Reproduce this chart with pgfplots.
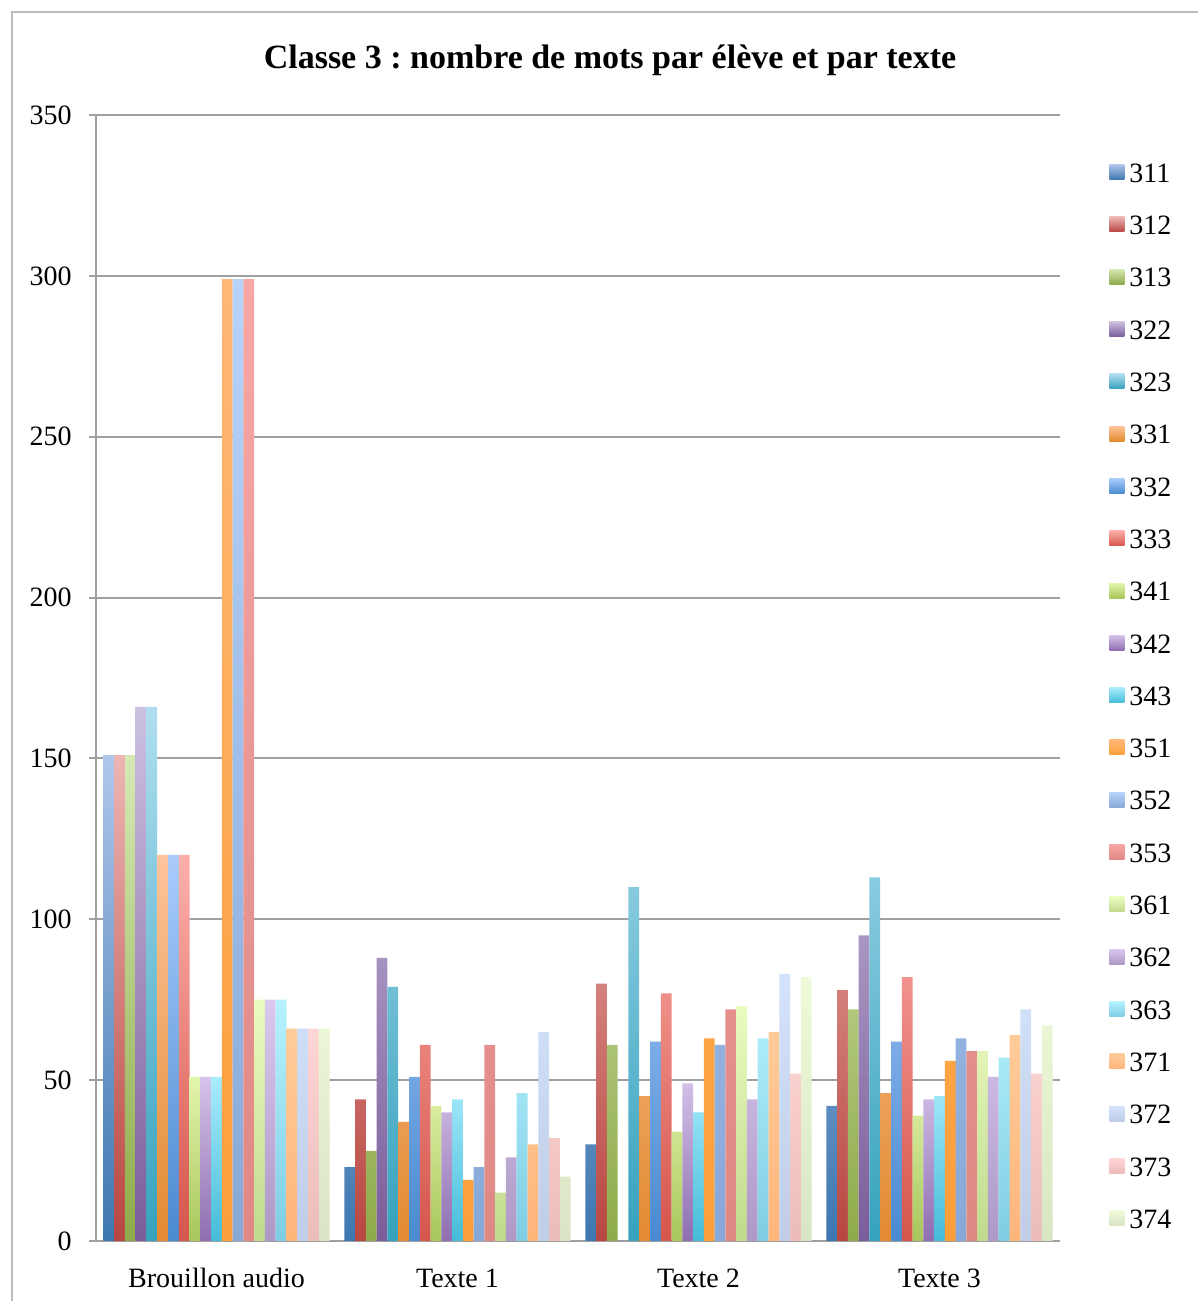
\documentclass[border=0pt]{standalone}
\usepackage{fontspec}
\setmainfont{Liberation Serif}
\usepackage{pgfplots}
\pgfplotsset{compat=1.18}
\frenchspacing
% bottom / top colours of each series
\definecolor{a1}{HTML}{3E77B0}\definecolor{b1}{HTML}{AFC6EA}
\definecolor{a2}{HTML}{B84640}\definecolor{b2}{HTML}{EDB5B3}
\definecolor{a3}{HTML}{8FAA4A}\definecolor{b3}{HTML}{D6E8B4}
\definecolor{a4}{HTML}{7A5D9A}\definecolor{b4}{HTML}{CCC1E1}
\definecolor{a5}{HTML}{36A2BD}\definecolor{b5}{HTML}{B0DEF0}
\definecolor{a6}{HTML}{E28A30}\definecolor{b6}{HTML}{FEC49C}
\definecolor{a7}{HTML}{4A8AD0}\definecolor{b7}{HTML}{AACCFC}
\definecolor{a8}{HTML}{D5564C}\definecolor{b8}{HTML}{FEAFAB}
\definecolor{a9}{HTML}{A8C65A}\definecolor{b9}{HTML}{E3F5AE}
\definecolor{a10}{HTML}{8F6EB0}\definecolor{b10}{HTML}{D4C3EA}
\definecolor{a11}{HTML}{45BCD8}\definecolor{b11}{HTML}{A9ECFC}
\definecolor{a12}{HTML}{FC9F3A}\definecolor{b12}{HTML}{FFB877}
\definecolor{a13}{HTML}{88A9D8}\definecolor{b13}{HTML}{B6D3FA}
\definecolor{a14}{HTML}{DF8985}\definecolor{b14}{HTML}{F7A7A5}
\definecolor{a15}{HTML}{C1D98E}\definecolor{b15}{HTML}{EBFCC0}
\definecolor{a16}{HTML}{AD98C7}\definecolor{b16}{HTML}{DAC8EE}
\definecolor{a17}{HTML}{7FCDE3}\definecolor{b17}{HTML}{B6F2FE}
\definecolor{a18}{HTML}{FFB57A}\definecolor{b18}{HTML}{FECC9A}
\definecolor{a19}{HTML}{BFCDE6}\definecolor{b19}{HTML}{D3E3FA}
\definecolor{a20}{HTML}{EBBCB9}\definecolor{b20}{HTML}{FED6D6}
\definecolor{a21}{HTML}{D8E4C3}\definecolor{b21}{HTML}{EFFADA}
\definecolor{axgray}{HTML}{A0A0A0}
\begin{document}
\begin{tikzpicture}
\path[use as bounding box] (0pt,0pt) rectangle (599pt,650.5pt);
\draw[axgray!70, line width=1pt] (6pt,0pt) -- (6pt,644.5pt) -- (610pt,644.5pt);
\node[anchor=base, font=\fontsize{17}{20}\selectfont\bfseries] at (305pt,616pt)
  {Classe 3 : nombre de mots par élève et par texte};
\begin{axis}[
  at={(48pt,30pt)}, anchor=south west,
  scale only axis, width=482pt, height=563pt,
  ybar=0pt, bar width=0.0447,
  xmin=-0.5, xmax=3.5, ymin=0, ymax=350,
  axis lines*=left,
  axis line style={axgray, line width=1pt},
  xtick={0,1,2,3},
  xticklabels={Brouillon audio, Texte 1, Texte 2, Texte 3},
  major x tick style={draw=none},
  extra x ticks={-0.5,0.5,1.5,2.5,3.5},
  extra x tick labels={},
  extra x tick style={major tick length=3.5pt, tick align=outside, grid=none,
     tick style={axgray, line width=1pt}},
  ytick={0,50,...,350},
  ymajorgrids,
  major grid style={axgray, line width=1pt},
  tick align=outside,
  major tick length=3.5pt,
  tick style={axgray, line width=1pt},
  /pgf/number format/assume math mode=true,
  tick label style={font=\fontsize{14}{16}\selectfont},
  yticklabel style={anchor=east, inner sep=0pt, xshift=-8.5pt},
  xticklabel style={anchor=base, inner sep=0pt, yshift=-19.5pt},
  legend style={at={(1.0446,0.9742)}, anchor=north west, draw=none, fill=none,
     font=\fontsize{14}{16}\selectfont,
     nodes={inner sep=0pt, minimum height=26.15pt},
     row sep=0pt,
     /tikz/every odd column/.append style={column sep=2.5pt}},
  legend cell align=left,
  legend image code/.code={\path[#1, draw=none] (0pt,-2.5pt) rectangle (7.5pt,5pt);},
  every axis plot/.append style={draw=none},
]
\addplot[bottom color=a1, top color=b1] coordinates {(0,151) (1,23) (2,30) (3,42)};
\addplot[bottom color=a2, top color=b2] coordinates {(0,151) (1,44) (2,80) (3,78)};
\addplot[bottom color=a3, top color=b3] coordinates {(0,151) (1,28) (2,61) (3,72)};
\addplot[bottom color=a4, top color=b4] coordinates {(0,166) (1,88) (2,0) (3,95)};
\addplot[bottom color=a5, top color=b5] coordinates {(0,166) (1,79) (2,110) (3,113)};
\addplot[bottom color=a6, top color=b6] coordinates {(0,120) (1,37) (2,45) (3,46)};
\addplot[bottom color=a7, top color=b7] coordinates {(0,120) (1,51) (2,62) (3,62)};
\addplot[bottom color=a8, top color=b8] coordinates {(0,120) (1,61) (2,77) (3,82)};
\addplot[bottom color=a9, top color=b9] coordinates {(0,51) (1,42) (2,34) (3,39)};
\addplot[bottom color=a10, top color=b10] coordinates {(0,51) (1,40) (2,49) (3,44)};
\addplot[bottom color=a11, top color=b11] coordinates {(0,51) (1,44) (2,40) (3,45)};
\addplot[bottom color=a12, top color=b12] coordinates {(0,299) (1,19) (2,63) (3,56)};
\addplot[bottom color=a13, top color=b13] coordinates {(0,299) (1,23) (2,61) (3,63)};
\addplot[bottom color=a14, top color=b14] coordinates {(0,299) (1,61) (2,72) (3,59)};
\addplot[bottom color=a15, top color=b15] coordinates {(0,75) (1,15) (2,73) (3,59)};
\addplot[bottom color=a16, top color=b16] coordinates {(0,75) (1,26) (2,44) (3,51)};
\addplot[bottom color=a17, top color=b17] coordinates {(0,75) (1,46) (2,63) (3,57)};
\addplot[bottom color=a18, top color=b18] coordinates {(0,66) (1,30) (2,65) (3,64)};
\addplot[bottom color=a19, top color=b19] coordinates {(0,66) (1,65) (2,83) (3,72)};
\addplot[bottom color=a20, top color=b20] coordinates {(0,66) (1,32) (2,52) (3,52)};
\addplot[bottom color=a21, top color=b21] coordinates {(0,66) (1,20) (2,82) (3,67)};
\legend{311,312,313,322,323,331,332,333,341,342,343,351,352,353,361,362,363,371,372,373,374}
\end{axis}
\end{tikzpicture}
\end{document}
